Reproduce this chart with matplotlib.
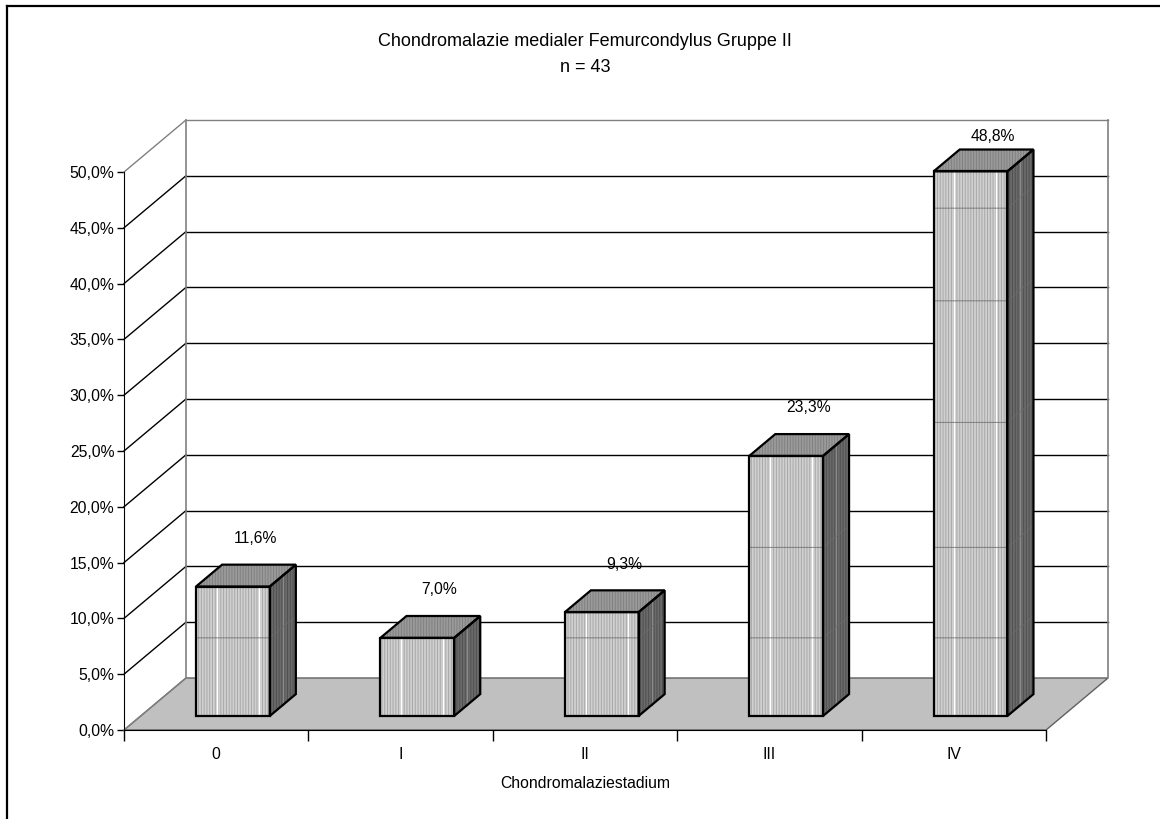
import matplotlib.pyplot as plt
from matplotlib.patches import Polygon
from matplotlib.lines import Line2D
from matplotlib import ticker as tk

stages = ["0", "I", "II", "III", "IV"]
anteil = [11.6, 7.0, 9.3, 23.3, 48.8]
wert_labels = ["11,6%", "7,0%", "9,3%", "23,3%", "48,8%"]
y_ticks = [0, 5, 10, 15, 20, 25, 30, 35, 40, 45, 50]

plt.rcParams["font.family"] = ["Liberation Sans", "DejaVu Sans"]
plt.rcParams["hatch.linewidth"] = 0.7

# pseudo-3D geometry in data units (categories / percent)
WALL_DX, WALL_DY = 0.336, 4.66
BAR_W = 0.40
D0, D1 = 0.27, 0.69
LABEL_DX, LABEL_DY = 0.12, 4.3
LABEL_TOP = 53.2
FS = 11.3

W, H = 1160, 819
fig = plt.figure(figsize=(W / 100, H / 100), dpi=100)

# outer frame (only top and left edge visible)
fig.add_artist(Line2D([7 / W, 7 / W], [0, 1 - 6 / H], color="black", lw=1.6))
fig.add_artist(Line2D([7 / W, 1], [1 - 6 / H, 1 - 6 / H], color="black", lw=1.6))

ax = fig.add_axes([124 / W, (H - 730) / H, 984 / W, 610 / H])
ax.set_xlim(0, len(stages) + WALL_DX)
ax.set_ylim(0, y_ticks[-1] + WALL_DY)
ax.patch.set_visible(False)

# floor
floor = Polygon([(0, 0), (len(stages), 0), (len(stages) + WALL_DX, WALL_DY), (WALL_DX, WALL_DY)],
                closed=True, facecolor="#c0c0c0", edgecolor="#606060", lw=1, zorder=1)
ax.add_patch(floor)

# side and back wall with gridlines
for v in y_ticks:
    c = "#808080" if v in (0, y_ticks[-1]) else "black"
    ax.plot([0, WALL_DX], [v, v + WALL_DY], color=c, lw=1, zorder=2, clip_on=False)
    if v > 0:
        ax.plot([WALL_DX, len(stages) + WALL_DX], [v + WALL_DY, v + WALL_DY], color=c, lw=1, zorder=2,
                clip_on=False)
for xw in (WALL_DX, len(stages) + WALL_DX):
    ax.plot([xw, xw], [WALL_DY, y_ticks[-1] + WALL_DY], color="#808080", lw=1.2, zorder=2, clip_on=False)

# texture seams of the bar fill
seams = [7.0, 15.1, 26.3, 37.2, 45.5]

ddx = (D1 - D0) * WALL_DX
ddy = (D1 - D0) * WALL_DY
for i, v in enumerate(anteil):
    x0 = i + 0.5 - BAR_W / 2 + D0 * WALL_DX
    y0 = D0 * WALL_DY
    x1 = x0 + BAR_W
    front = [(x0, y0), (x1, y0), (x1, y0 + v), (x0, y0 + v)]
    right = [(x1, y0), (x1 + ddx, y0 + ddy), (x1 + ddx, y0 + v + ddy), (x1, y0 + v)]
    top = [(x0, y0 + v), (x1, y0 + v), (x1 + ddx, y0 + v + ddy), (x0 + ddx, y0 + v + ddy)]
    for pts, fc, hc in ((right, "#6a6a6a", "#505050"),
                        (top, "#9a9a9a", "#808080"),
                        (front, "#d0d0d0", "#a8a8a8")):
        ax.add_patch(Polygon(pts, closed=True, facecolor=fc, edgecolor=hc, lw=0,
                             hatch="||||||", zorder=3))
    # light streaks in the texture
    for f in (0.28, 0.85):
        ax.plot([x0 + f * BAR_W] * 2, [y0, y0 + v], color="white", lw=1, zorder=4)
    ax.plot([x1 + ddx * 0.5] * 2, [y0 + ddy * 0.5, y0 + v + ddy * 0.5], color="#8a8a8a", lw=1, zorder=4)
    for s in seams:
        if s < v:
            ax.plot([x0, x1, x1 + ddx], [y0 + s, y0 + s, y0 + s + ddy], color="#6a6a6a", lw=0.8,
                    alpha=0.7, zorder=4)
    for pts in (right, top, front):
        ax.add_patch(Polygon(pts, closed=True, fill=False, edgecolor="black", lw=1.6, zorder=5))
    ax.text(i + 0.5 + D0 * WALL_DX + LABEL_DX, min(v + y0 + LABEL_DY, LABEL_TOP), wert_labels[i],
            ha="center", va="center", fontsize=FS, zorder=6)

# axes
for side in ("top", "right"):
    ax.spines[side].set_visible(False)
ax.spines["left"].set_bounds(0, y_ticks[-1])
ax.spines["bottom"].set_bounds(0, len(stages))
ax.spines["left"].set_zorder(7)
ax.spines["bottom"].set_zorder(7)
ax.set_yticks(y_ticks)
ax.yaxis.set_major_formatter(tk.FuncFormatter(lambda y, pos: ("%.1f%%" % y).replace(".", ",")))
ax.tick_params(axis="y", length=5, width=1, pad=2, labelsize=FS)
ax.set_xticks(range(len(stages) + 1))
ax.set_xticklabels([])
ax.set_xticks([i + 0.5 for i in range(len(stages))], minor=True)
ax.set_xticklabels(stages, minor=True)
ax.tick_params(axis="x", which="major", length=8, width=1)
ax.tick_params(axis="x", which="minor", length=0, pad=12, labelsize=FS)

fig.text(585 / W, 1 - 42 / H, "Chondromalazie medialer Femurcondylus Gruppe II", ha="center", va="center",
         fontsize=13)
fig.text(585 / W, 1 - 67 / H, "n = 43", ha="center", va="center", fontsize=13)
fig.text(585 / W, 1 - 783 / H, "Chondromalaziestadium", ha="center", va="center", fontsize=FS)

fig.savefig("out.png", dpi=100)
